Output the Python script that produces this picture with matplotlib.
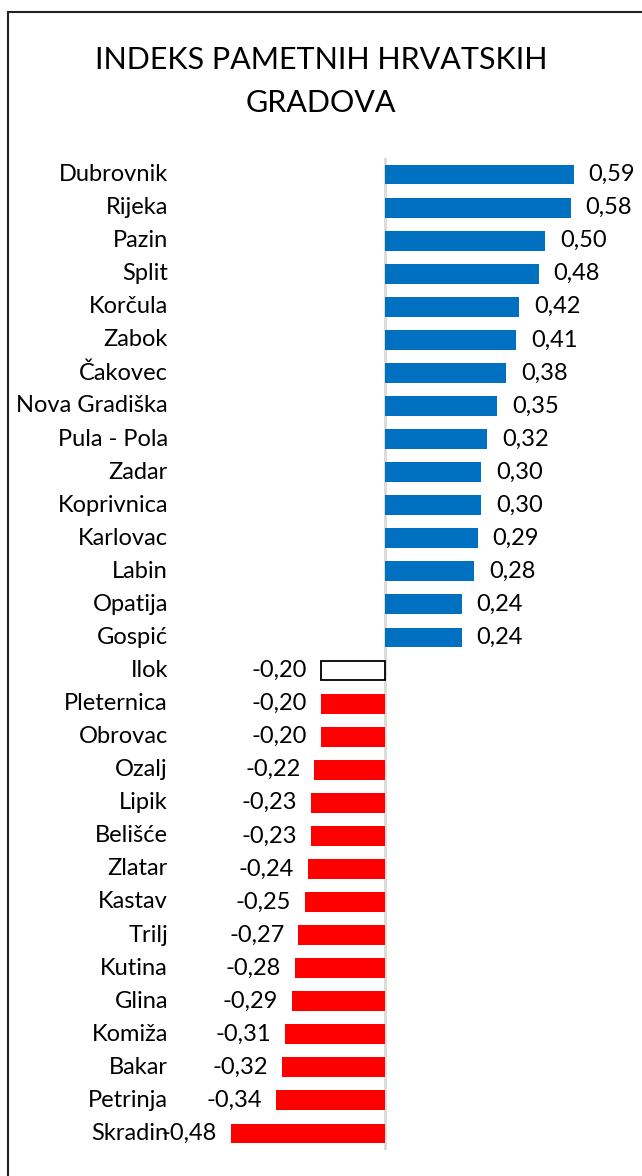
import matplotlib.pyplot as plt
from matplotlib.patches import Rectangle
from matplotlib.transforms import blended_transform_factory

plt.rcParams['font.family'] = ['Lato', 'DejaVu Sans']

gradovi = ["Dubrovnik", "Rijeka", "Pazin", "Split", "Korčula", "Zabok", "Čakovec",
           "Nova Gradiška", "Pula - Pola", "Zadar", "Koprivnica", "Karlovac", "Labin",
           "Opatija", "Gospić", "Ilok", "Pleternica", "Obrovac", "Ozalj", "Lipik",
           "Belišće", "Zlatar", "Kastav", "Trilj", "Kutina", "Glina", "Komiža",
           "Bakar", "Petrinja", "Skradin"]
indeks = [0.59, 0.58, 0.50, 0.48, 0.42, 0.41, 0.38, 0.35, 0.32, 0.30, 0.30, 0.29,
          0.28, 0.24, 0.24, -0.20, -0.20, -0.20, -0.22, -0.23, -0.23, -0.24, -0.25,
          -0.27, -0.28, -0.29, -0.31, -0.32, -0.34, -0.48]
# "Ilok" is drawn as an empty outlined bar
prazni = ["Ilok"]

W, H = 642, 1176
fig = plt.figure(figsize=(W / 100, H / 100), dpi=100)

# frame around the chart area
fig.patches.append(Rectangle((8 / W, -0.01), 1.1, 1 - 12 / H + 0.01,
                             transform=fig.transFigure, fill=False,
                             edgecolor='#222222', linewidth=1.5))

x0, x1 = -0.48, 0.75
left, right = 231, 625
top, bottom = 158, 1150
ax = fig.add_axes([left / W, 1 - bottom / H, (right - left) / W, (bottom - top) / H])

n = len(gradovi)
ypos = list(range(n))
for y, g, v in zip(ypos, gradovi, indeks):
    if g in prazni:
        ax.barh(y, v, height=0.6, color='white', edgecolor='black', linewidth=1.3)
    else:
        ax.barh(y, v, height=0.6, color='#0070C0' if v > 0 else '#FF0000')
    txt = f"{v:.2f}".replace('.', ',')
    if v > 0:
        ax.annotate(txt, (v, y), xytext=(15, 0), textcoords='offset pixels',
                    ha='left', va='center', fontsize=17)
    else:
        ax.annotate(txt, (v, y), xytext=(-14, 0), textcoords='offset pixels',
                    ha='right', va='center', fontsize=17)

ax.set_xlim(x0, x1)
ax.set_ylim(n - 0.5, -0.5)
ax.axvline(0, color='#d9d9d9', linewidth=2, zorder=0)

# category names sit at the far left, right-aligned
tr = blended_transform_factory(fig.transFigure, ax.transData)
for y, g in zip(ypos, gradovi):
    ax.text(168 / W, y, g, transform=tr, ha='right', va='center', fontsize=17)

ax.set_xticks([])
ax.set_yticks([])
for s in ax.spines.values():
    s.set_visible(False)

fig.text(0.5, 1 - 60 / H, "INDEKS PAMETNIH HRVATSKIH", ha='center', va='center', fontsize=22)
fig.text(0.5, 1 - 103 / H, "GRADOVA", ha='center', va='center', fontsize=22)

fig.savefig("out.png", dpi=100, facecolor='white')
